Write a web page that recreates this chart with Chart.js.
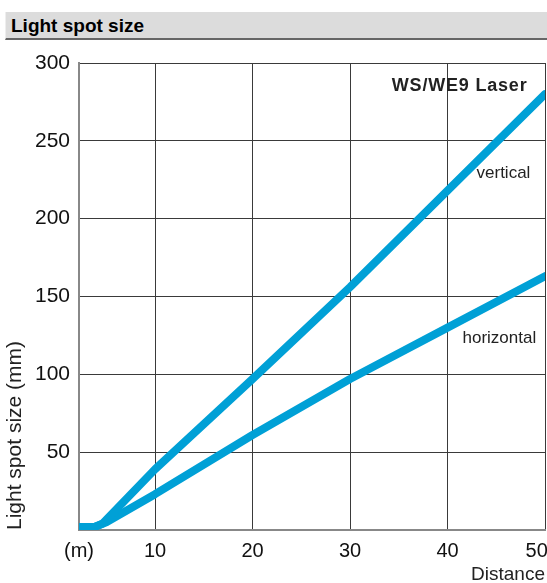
<!DOCTYPE html>
<html>
<head>
<meta charset="utf-8">
<script src="https://cdn.jsdelivr.net/npm/chart.js@4/dist/chart.umd.min.js"></script>
<style>
    body { margin: 0; background: #fff; font-family: "Liberation Sans", Arial, sans-serif; }
    .wrap { position: relative; width: 547px; height: 583px; overflow: hidden; }
    .header {
        position: absolute; left: 5px; top: 12px; width: 542px; height: 28px;
        background: #dcdcdc; border-bottom: 2px solid #666; border-left: 1px solid #eee;
        font-weight: bold; font-size: 19px; line-height: 28px; padding-left: 5px; box-sizing: border-box;
        z-index: 2;
    }
    canvas { position: absolute; left: 0; top: 0; }
</style>
</head>
<body>
<div class="wrap">
    <div class="header">Light spot size</div>
    <canvas id="c" width="547" height="583"></canvas>
</div>
<script>
// distance in m, spot size in mm
const verticalX = [2.2, 3.8, 4.6, 10, 20, 30, 40, 50];
const verticalY = [2, 2, 4, 39, 97, 156, 218, 280];
const horizontalX = [2.2, 3.8, 5, 10, 20, 30, 40, 50];
const horizontalY = [2, 2, 5, 23, 61, 97, 130, 163];

const xTickValues = [2.2, 10, 20, 30, 40, 50];
const xTickLabels = ['(m)', '10', '20', '30', '40', '50'];
const yTickValues = [0, 50, 100, 150, 200, 250, 300];
const yTickLabels = ['', '50', '100', '150', '200', '250', '300'];

const notes = [
    { text: 'WS/WE9 Laser', x: 48.2, y: 285, bold: true },
    { text: 'vertical', x: 48.5, y: 229 },
    { text: 'horizontal', x: 49.1, y: 123 }
];

const blue = '#00a0d6';
const FONT = '"Liberation Sans", Arial, sans-serif';

const pts = (xs, ys) => xs.map((x, i) => ({ x, y: ys[i] }));

const notePlugin = {
    id: 'notes',
    afterDatasetsDraw: (chart) => {
        const c = chart.ctx, sx = chart.scales.x, sy = chart.scales.y;
        c.save();
        c.fillStyle = '#222';
        c.textAlign = 'right';
        c.textBaseline = 'middle';
        notes.forEach(n => {
            c.font = (n.bold ? 'bold 18px ' : '17px ') + FONT;
            c.letterSpacing = n.bold ? '0.8px' : '0px';
            c.fillText(n.text, sx.getPixelForValue(n.x), sy.getPixelForValue(n.y));
        });
        c.restore();
    }
};

new Chart(document.getElementById('c').getContext('2d'), {
    type: 'line',
    data: {
        datasets: [
            { label: 'vertical', data: pts(verticalX, verticalY) },
            { label: 'horizontal', data: pts(horizontalX, horizontalY) }
        ]
    },
    options: {
        responsive: false,
        animation: false,
        layout: { padding: { top: 63, right: 2, left: 0, bottom: 0 } },
        elements: {
            line: { borderColor: blue, borderWidth: 8, borderCapStyle: 'round', borderJoinStyle: 'round', tension: 0 },
            point: { radius: 0 }
        },
        plugins: { legend: { display: false }, tooltip: { enabled: false } },
        scales: {
            x: {
                type: 'linear', min: 2.2, max: 50,
                afterBuildTicks: s => { s.ticks = xTickValues.map(v => ({ value: v })); },
                afterFit: s => { s.height = 53; s.paddingLeft = 0; s.paddingRight = 0; },
                grid: { color: '#3a3a3a', lineWidth: 1, drawTicks: false },
                border: { color: '#888', width: 2 },
                ticks: {
                    padding: 9, color: '#111', maxRotation: 0, autoSkip: false,
                    font: { family: FONT, size: 20 },
                    // last label sits against the page edge, nudge it left
                    callback: (v, i) => i === xTickLabels.length - 1 ? xTickLabels[i] + '   ' : xTickLabels[i]
                },
                title: {
                    display: true, text: 'Distance', align: 'end', color: '#222',
                    font: { family: FONT, size: 19, lineHeight: 1 }, padding: { top: 0, bottom: -1 }
                }
            },
            y: {
                min: 0, max: 300,
                afterBuildTicks: s => { s.ticks = yTickValues.map(v => ({ value: v })); },
                afterFit: s => { s.width = 79; s.paddingTop = 0; s.paddingBottom = 0; },
                grid: { color: '#3a3a3a', lineWidth: 1, drawTicks: false },
                border: { color: '#888', width: 2 },
                ticks: {
                    padding: 9, color: '#111',
                    font: { family: FONT, size: 21 },
                    callback: (v, i) => yTickLabels[i]
                },
                title: {
                    display: true, text: 'Light spot size (mm)', align: 'start', color: '#222',
                    font: { family: FONT, size: 21, lineHeight: 1 }, padding: { top: 5, bottom: 0 }
                }
            }
        }
    },
    plugins: [notePlugin]
});
</script>
</body>
</html>
